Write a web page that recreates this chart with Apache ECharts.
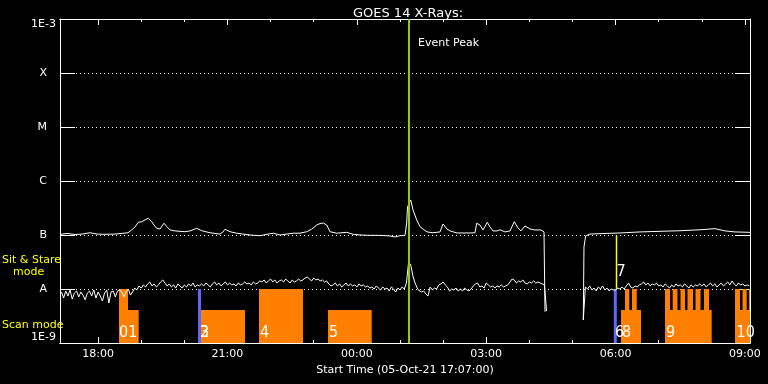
<!DOCTYPE html>
<html><head><meta charset="utf-8">
<script src="https://cdn.jsdelivr.net/npm/echarts@6/dist/echarts.min.js"></script>
<style>html,body{margin:0;padding:0;background:#000}#c{width:768px;height:384px}</style>
</head><body><div id="c"></div>
<script>
// Time: decimal hours UT since 2021-10-05 00:00 (values above 24 fall on 06-Oct)
const startHour = 17 + 7 / 60;
const endHour = startHour + 16;
const majorTickHours = [18, 21, 24, 27, 30, 33];
const minorTickHours = [18, 19, 20, 21, 22, 23, 24, 25, 26, 27, 28, 29, 30, 31, 32, 33];
// Flux in units of 1e-9 W/m^2 ; tick labels at each decade from 1 (1E-9) to 1e6 (1E-3)
const yTickLabels = ['1E-9', 'A', 'B', 'C', 'M', 'X', '1E-3'];

// Long channel (1-8 A) : [hour, flux]
const longChannel = [[17.117,102],[17.279,107],[17.464,102],[17.627,104],[17.812,110],[17.975,104],[18.160,103],[18.392,104],[18.554,107],[18.693,110],[18.779,124],[18.856,141],[18.932,172],[19.011,176],[19.088,190],[19.164,204],[19.243,176],[19.296,153],[19.359,133],[19.435,129],[19.482,147],[19.528,165],[19.591,143],[19.667,124],[19.783,119],[20.015,115],[20.131,119],[20.286,133],[20.403,120],[20.595,110],[20.827,104],[20.897,114],[20.943,128],[21.059,115],[21.214,108],[21.522,100],[21.754,97],[21.940,104],[22.063,108],[22.218,100],[22.527,108],[22.682,108],[22.837,115],[22.953,128],[23.069,153],[23.146,163],[23.222,167],[23.301,153],[23.378,115],[23.533,108],[23.765,112],[23.918,103],[24.073,100],[24.305,98.5],[24.537,98.5],[24.769,96],[24.885,92],[25.001,97],[25.117,98.5],[25.156,167],[25.175,330],[25.249,445],[25.302,293],[25.388,190],[25.464,143],[25.534,129],[25.627,114],[25.766,110],[25.928,114],[25.998,160],[26.091,129],[26.160,119],[26.322,109],[26.624,109],[26.740,110],[26.779,165],[26.856,153],[26.925,124],[27.025,172],[27.088,141],[27.157,119],[27.250,119],[27.320,125],[27.436,114],[27.551,119],[27.651,176],[27.737,135],[27.806,119],[27.899,147],[28.015,129],[28.131,124],[28.270,124],[28.340,114],[28.363,3.8],[28.40,'-'],[29.251,2.67],[29.267,60],[29.306,96],[29.406,104],[29.638,106],[30.102,109],[30.566,114],[31.030,117],[31.493,120],[31.957,125],[32.305,131],[32.537,119],[32.769,114],[33.117,112]];

// Short channel (0.5-4 A), sampled every 3 minutes
const shortCadence = 0.05;
const shortSeg1Start = 17.15;
const shortSeg1 = [8.8,6.8,9.2,7.4,9.6,6.5,8.4,9.2,7.1,8.8,7.7,6.3,8.4,9.2,7.4,9.6,6.8,8.8,7.4,6.0,8.4,9.6,5.5,8.8,9.2,7.1,9.2,
  9.6,8.8,7.1,8.8,10.0,7.7,8.8,10.4,
  9.6,11.4,10.4,11.9,10.9,12.4,13.5,11.4,12.4,10.9,11.9,
  13.5,14.7,12.9,11.4,12.4,10.9,11.9,10.4,12.4,11.4,10.4,11.9,10.9,12.4,11.4,12.9,10.9,11.9,
  11.4,12.4,11.4,12.9,11.9,10.9,12.4,13.5,11.9,12.9,11.4,12.4,13.5,11.9,12.9,11.9,12.4,11.4,12.9,11.9,12.4,13.5,12.4,12.9,11.9,13.5,12.4,12.9,14.1,
  13.5,14.7,12.9,14.1,15.3,13.5,14.7,12.9,14.1,14.7,13.5,15.3,14.1,12.9,14.7,13.5,14.1,15.3,14.1,
  14.7,16.0,16.7,15.3,14.1,16.0,14.7,15.3,14.1,14.7,13.5,14.1,
  12.4,11.4,11.9,12.9,11.4,12.4,10.9,11.9,12.9,11.4,12.4,11.4,11.9,10.9,12.4,11.4,11.9,10.9,
  11.4,10.4,10.9,10.0,11.4,10.4,9.6,10.9,10.0,10.4,9.2,10.9,10.0,8.8,10.4,9.6,10.9,10.0,
  12.9,31.6,27.8,17.4,12.9,10.4,9.2,8.8,9.2,8.1,7.4,10.9,9.6,10.4,10.0,11.9,12.4,13.5,11.9,10.9,
  9.2,10.0,9.6,10.4,9.2,10.0,9.2,10.4,9.6,9.2,10.0,11.4,12.4,12.9,10.9,11.4,10.4,12.9,11.9,10.9,
  11.4,10.4,11.4,10.9,11.9,10.9,11.4,11.9,13.5,15.3,14.7,12.9,14.1,13.5,14.7,12.9,12.4,13.5,12.9,14.1,
  12.9,13.5,12.9,12.4,11.9,3.9];
const shortSeg2Lead = [29.25, 2.67];
const shortSeg2Start = 29.30;
const shortSeg2 = [10.9,10.0,11.4,9.6,10.4,9.2,10.9,10.0,11.4,9.6,10.4,9.2,10.0,9.6,
  9.6,10.4,10.0,10.9,10.0,11.4,12.9,10.9,10.4,11.4,10.9,11.9,
  12.4,13.5,11.9,12.9,11.4,12.4,11.9,12.9,11.4,
  11.9,10.9,12.4,11.4,10.4,11.9,10.9,12.4,11.4,11.9,10.9,12.4,11.4,10.4,11.9,10.9,11.9,11.4,12.4,
  11.4,12.4,10.9,11.9,12.9,11.4,12.4,10.9,11.9,12.9,11.4,12.4,13.5,11.9,14.1,12.4,11.4,12.9,11.9,12.4,11.4,11.9,11.4];

// Observing-mode spans [startHour, endHour]
const sitStareLevel = 10;   // reaches the A level
const scanLevel = 4.08;
const sitStareSpans = [[18.485,18.694],[21.731,22.751],[30.218,30.318],[30.380,30.490],[31.146,31.263],[31.324,31.435],[31.505,31.609],[31.667,31.795],[31.853,31.969],[32.050,32.166],[32.769,32.885],[32.943,33.040],[33.094,33.117]];
const scanSpans = [[18.694,18.941],[20.363,21.406],[23.331,24.345],[30.126,30.589],[31.146,32.228],[32.769,33.117]];
const modeLabels = [[18.485,'01'],[20.363,'2'],[20.363,'3'],[21.754,'4'],[23.355,'5'],[29.986,'6'],[30.149,'8'],[31.169,'9'],[32.804,'10']];
const blueMarkers = [20.351, 29.993];
const yellowMarker = {hour: 30.021, from: 100, to: 10, label: '7', labelAt: 20.6};
const eventPeak = {hour: 25.209, label: 'Event Peak'};

const yMin = 1, yMax = 1e6;
const FONT = 'DejaVu Sans';
const ORANGE = '#ff8000';

function buildShort() {
  const out = [];
  shortSeg1.forEach((v, i) => out.push([+(shortSeg1Start + i * shortCadence).toFixed(3), v]));
  out.push([28.42, '-']);
  out.push(shortSeg2Lead);
  shortSeg2.forEach((v, i) => out.push([+(shortSeg2Start + i * shortCadence).toFixed(3), v]));
  return out;
}

const spanData = sitStareSpans.map(s => [s[0], s[1], sitStareLevel]).concat(scanSpans.map(s => [s[0], s[1], scanLevel]));

function xAxisBase(pos, ticks, len, labels) {
  return {
    type: 'value', min: startHour, max: endHour, position: pos,
    axisLine: {show: true, lineStyle: {color: '#fff', width: 1}},
    axisTick: {show: true, inside: true, length: len, customValues: ticks, lineStyle: {color: '#fff', width: 1}},
    axisLabel: labels ? {show: true, customValues: ticks, color: '#fff', fontFamily: FONT, fontSize: 11, margin: 6,
      formatter: v => String(Math.round(v) % 24).padStart(2, '0') + ':00'} : {show: false},
    splitLine: {show: false}
  };
}

const chart = echarts.init(document.getElementById('c'));
const xAxes = [
  Object.assign(xAxisBase('bottom', majorTickHours, 6, true), {
    name: 'Start Time (05-Oct-21 17:07:00)', nameLocation: 'middle', nameGap: 19,
    nameTextStyle: {color: '#fff', fontFamily: FONT, fontSize: 11}
  }),
  xAxisBase('bottom', minorTickHours, 3, false),
  xAxisBase('top', majorTickHours, 6, false),
  xAxisBase('top', minorTickHours, 3, false)
];

chart.setOption({
  backgroundColor: '#000',
  animation: false,
  title: {text: 'GOES 14 X-Rays:', left: 403, top: 2, textAlign: 'center',
    textStyle: {color: '#fff', fontFamily: FONT, fontSize: 13, fontWeight: 'normal'}},
  grid: {left: 60, right: 18, top: 19, bottom: 41, containLabel: false},
  xAxis: xAxes,
  yAxis: [
    {type: 'log', logBase: 10, min: yMin, max: yMax, splitNumber: 6, position: 'left',
      axisLine: {show: true, lineStyle: {color: '#fff'}},
      axisTick: {show: true, inside: true, length: 15, lineStyle: {color: '#fff'}},
      minorTick: {show: false},
      axisLabel: {color: '#fff', fontFamily: FONT, fontSize: 11, margin: 4,
        verticalAlignMinLabel: 'bottom', verticalAlignMaxLabel: 'top',
        formatter: v => {
          const i = Math.round(Math.log10(v));
          const t = yTickLabels[i];
          return (i === 0 || i === 6) ? t : '{l|' + t + '}';
        },
        rich: {l: {color: '#fff', fontFamily: FONT, fontSize: 11, padding: [0, 9, 0, 0]}}},
      splitLine: {show: true, lineStyle: {color: '#fff', width: 1, type: [1, 3]}}},
    {type: 'log', logBase: 10, min: yMin, max: yMax, splitNumber: 6, position: 'right',
      axisLine: {show: true, lineStyle: {color: '#fff'}},
      axisTick: {show: true, inside: true, length: 15, lineStyle: {color: '#fff'}},
      axisLabel: {show: false}, splitLine: {show: false}}
  ],
  graphic: [
    {type: 'text', left: 2, top: 255, style: {text: 'Sit & Stare', fill: '#ffff00', font: '11px ' + FONT}},
    {type: 'text', left: 13, top: 267, style: {text: 'mode', fill: '#ffff00', font: '11px ' + FONT}},
    {type: 'text', left: 2, top: 320, style: {text: 'Scan mode', fill: '#ffff00', font: '11px ' + FONT}}
  ],
  series: [
    {type: 'custom', name: 'modes', xAxisIndex: 0, yAxisIndex: 0, z: 2, silent: true, clip: true,
      encode: {x: [0, 1], y: 2}, data: spanData,
      renderItem: (params, api) => {
        const p0 = api.coord([api.value(0), api.value(2)]);
        const p1 = api.coord([api.value(1), yMin]);
        return {type: 'rect', shape: {x: p0[0], y: p0[1], width: p1[0] - p0[0], height: p1[1] - p0[1]}, style: {fill: ORANGE}};
      }},
    {type: 'custom', name: 'blue', xAxisIndex: 0, yAxisIndex: 0, z: 2, silent: true,
      encode: {x: 0, y: 1}, data: blueMarkers.map(h => [h, sitStareLevel]),
      renderItem: (params, api) => {
        const p0 = api.coord([api.value(0), api.value(1)]);
        const p1 = api.coord([api.value(0), yMin]);
        return {type: 'line', shape: {x1: p0[0], y1: p0[1], x2: p1[0], y2: p1[1]}, style: {stroke: '#6464ff', lineWidth: 3}};
      }},
    {type: 'line', name: 'short', xAxisIndex: 0, yAxisIndex: 0, z: 3, data: buildShort(), symbol: 'none', showSymbol: false,
      connectNulls: false, lineStyle: {color: '#fff', width: 1}, silent: true},
    {type: 'line', name: 'long', xAxisIndex: 0, yAxisIndex: 0, z: 3, data: longChannel, symbol: 'none', showSymbol: false,
      connectNulls: false, lineStyle: {color: '#fff', width: 1}, silent: true},
    {type: 'custom', name: 'labels', xAxisIndex: 0, yAxisIndex: 0, z: 4, silent: true,
      encode: {x: 0, y: 1}, data: modeLabels.map(m => [m[0], yMin]),
      renderItem: (params, api) => {
        const p = api.coord([api.value(0), yMin]);
        return {type: 'text', style: {text: modeLabels[params.dataIndex][1], x: p[0], y: p[1] - 2,
          fill: '#fff', font: '16px "Liberation Sans Narrow", "DejaVu Sans Condensed", sans-serif', align: 'left', verticalAlign: 'bottom'}};
      }},
    {type: 'custom', name: 'yellow', xAxisIndex: 0, yAxisIndex: 0, z: 4, silent: true,
      encode: {x: 0, y: 1}, data: [[yellowMarker.hour, yellowMarker.from]],
      renderItem: (params, api) => {
        const p0 = api.coord([yellowMarker.hour, yellowMarker.from]);
        const p1 = api.coord([yellowMarker.hour, yellowMarker.to]);
        const pl = api.coord([yellowMarker.hour, yellowMarker.labelAt]);
        return {type: 'group', children: [
          {type: 'line', shape: {x1: p0[0], y1: p0[1], x2: p1[0], y2: p1[1]}, style: {stroke: '#ffff00', lineWidth: 1.5}},
          {type: 'text', style: {text: yellowMarker.label, x: pl[0], y: pl[1], fill: '#fff',
            font: '16px "Liberation Sans Narrow", "DejaVu Sans Condensed", sans-serif', align: 'left', verticalAlign: 'middle'}}
        ]};
      }},
    {type: 'custom', name: 'event', xAxisIndex: 0, yAxisIndex: 0, z: 5, silent: true,
      encode: {x: 0, y: 1}, data: [[eventPeak.hour, yMax]],
      renderItem: (params, api) => {
        const p0 = api.coord([eventPeak.hour, yMax]);
        const p1 = api.coord([eventPeak.hour, yMin]);
        return {type: 'group', children: [
          {type: 'line', shape: {x1: p0[0], y1: p0[1], x2: p1[0], y2: p1[1]}, style: {stroke: '#99cc00', lineWidth: 2}},
          {type: 'text', style: {text: eventPeak.label, x: p0[0] + 9, y: p0[1] + 24, fill: '#fff',
            font: '11px ' + FONT, align: 'left', verticalAlign: 'middle'}}
        ]};
      }}
  ]
});
</script></body></html>
